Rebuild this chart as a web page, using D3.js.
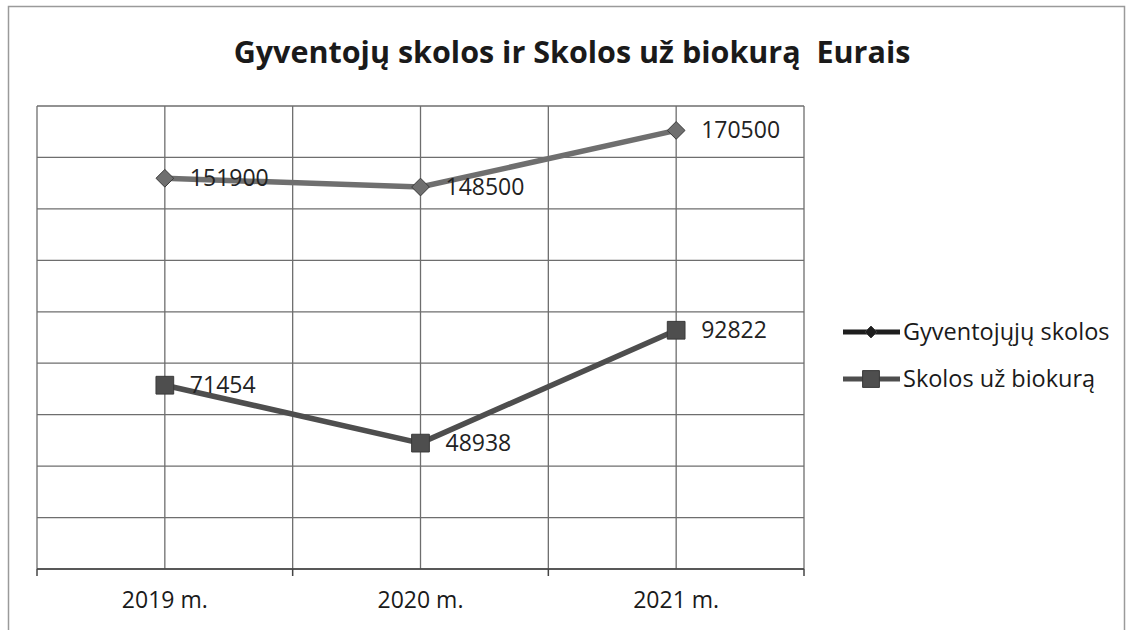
<!DOCTYPE html>
<html>
<head>
<meta charset="utf-8">
<script src="https://cdn.jsdelivr.net/npm/d3@7"></script>
<style>
  body { margin: 0; background: #fff; }
  text { font-family: "Open Sans", "DejaVu Sans", sans-serif; }
</style>
</head>
<body>
<script>
// chart data
var years = ["2019 m.", "2020 m.", "2021 m."];
var gyventojuSkolos = [151900, 148500, 170500];
var skolosUzBiokura = [71454, 48938, 92822];
var seriesNames = ["Gyventojųjų skolos", "Skolos už biokurą"];
var yTicks = [0, 20000, 40000, 60000, 80000, 100000, 120000, 140000, 160000, 180000];

var width = 1135, height = 630;
var plot = { left: 37, top: 106, right: 804, bottom: 569 };

var svg = d3.select("body").append("svg")
    .attr("width", width)
    .attr("height", height);

// outer frame
svg.append("rect")
    .attr("x", 8.5).attr("y", 6.5)
    .attr("width", 1116).attr("height", 640)
    .attr("fill", "none")
    .attr("stroke", "#9a9a9a")
    .attr("stroke-width", 1.5);

svg.append("text")
    .attr("x", 572).attr("y", 63)
    .attr("text-anchor", "middle")
    .attr("font-size", 30.5)
    .attr("font-weight", "bold")
    .attr("fill", "#1a1a1a")
    .style("white-space", "pre")
    .text("Gyventojų skolos ir Skolos už biokurą  Eurais");

var x = d3.scaleBand().domain(years).range([plot.left, plot.right]);
var y = d3.scaleLinear().domain([0, 180000]).range([plot.bottom, plot.top]);

// horizontal gridlines
svg.append("g").selectAll("line")
    .data(yTicks)
    .enter().append("line")
      .attr("x1", plot.left).attr("x2", plot.right)
      .attr("y1", function(d) { return y(d); })
      .attr("y2", function(d) { return y(d); })
      .attr("stroke", "#6e6e6e")
      .attr("stroke-width", 1.3);

// vertical gridlines: band edges and band centres
var vlines = [];
years.forEach(function(c) {
  vlines.push(x(c));
  vlines.push(x(c) + x.bandwidth() / 2);
});
vlines.push(plot.right);
svg.append("g").selectAll("line")
    .data(vlines)
    .enter().append("line")
      .attr("x1", function(d) { return d; })
      .attr("x2", function(d) { return d; })
      .attr("y1", plot.top).attr("y2", plot.bottom)
      .attr("stroke", "#6e6e6e")
      .attr("stroke-width", 1.3);

// x axis with tick marks at band edges
var xAxis = svg.append("g")
    .attr("transform", "translate(0," + plot.bottom + ")");
xAxis.append("line")
    .attr("x1", plot.left).attr("x2", plot.right)
    .attr("stroke", "#444").attr("stroke-width", 1.5);
xAxis.selectAll("line.tick")
    .data(years.map(function(c) { return x(c); }).concat([plot.right]))
    .enter().append("line")
      .attr("class", "tick")
      .attr("x1", function(d) { return d; })
      .attr("x2", function(d) { return d; })
      .attr("y1", 0).attr("y2", 7)
      .attr("stroke", "#444").attr("stroke-width", 1.5);
xAxis.selectAll("text")
    .data(years)
    .enter().append("text")
      .attr("x", function(d) { return x(d) + x.bandwidth() / 2; })
      .attr("y", 39)
      .attr("text-anchor", "middle")
      .attr("font-size", 23)
      .attr("fill", "#1a1a1a")
      .text(function(d) { return d; });

var series = [
  { name: seriesNames[0], values: gyventojuSkolos, color: "#6f6f6f", marker: "diamond" },
  { name: seriesNames[1], values: skolosUzBiokura, color: "#4e4e4e", marker: "square" }
];

var line = d3.line()
    .x(function(d, i) { return x(years[i]) + x.bandwidth() / 2; })
    .y(function(d) { return y(d); });

function markerPath(type, small) {
  if (type == "diamond") return d3.symbol().type(d3.symbolDiamond2).size(small ? 90 : 200)();
  return d3.symbol().type(d3.symbolSquare2).size(small ? 360 : 400)();
}

series.forEach(function(s) {
  svg.append("path")
      .datum(s.values)
      .attr("d", line)
      .attr("fill", "none")
      .attr("stroke", s.color)
      .attr("stroke-width", 5.5);

  svg.append("g").selectAll("path")
      .data(s.values)
      .enter().append("path")
        .attr("transform", function(d, i) {
          return "translate(" + (x(years[i]) + x.bandwidth() / 2) + "," + y(d) + ")";
        })
        .attr("d", markerPath(s.marker))
        .attr("fill", s.color)
        .attr("stroke", "#3a3a3a")
        .attr("stroke-width", 1);

  svg.append("g").selectAll("text")
      .data(s.values)
      .enter().append("text")
        .attr("x", function(d, i) { return x(years[i]) + x.bandwidth() / 2 + 25; })
        .attr("y", function(d) { return y(d) + 8; })
        .attr("font-size", 23)
        .attr("fill", "#222")
        .text(function(d) { return d; });
});

// legend
var legend = svg.append("g").attr("transform", "translate(843,332)");
series.forEach(function(s, i) {
  var g = legend.append("g").attr("transform", "translate(0," + (i * 47) + ")");
  g.append("line")
      .attr("x1", 0).attr("x2", 57)
      .attr("stroke", i == 0 ? "#1e1e1e" : s.color)
      .attr("stroke-width", 5);
  g.append("path")
      .attr("transform", "translate(28,0)")
      .attr("d", markerPath(s.marker, true))
      .attr("fill", i == 0 ? "#1e1e1e" : s.color)
      .attr("stroke", "#3a3a3a");
  g.append("text")
      .attr("x", 60).attr("y", 8)
      .attr("font-size", 23.5)
      .attr("fill", "#1a1a1a")
      .text(s.name);
});
</script>
</body>
</html>
